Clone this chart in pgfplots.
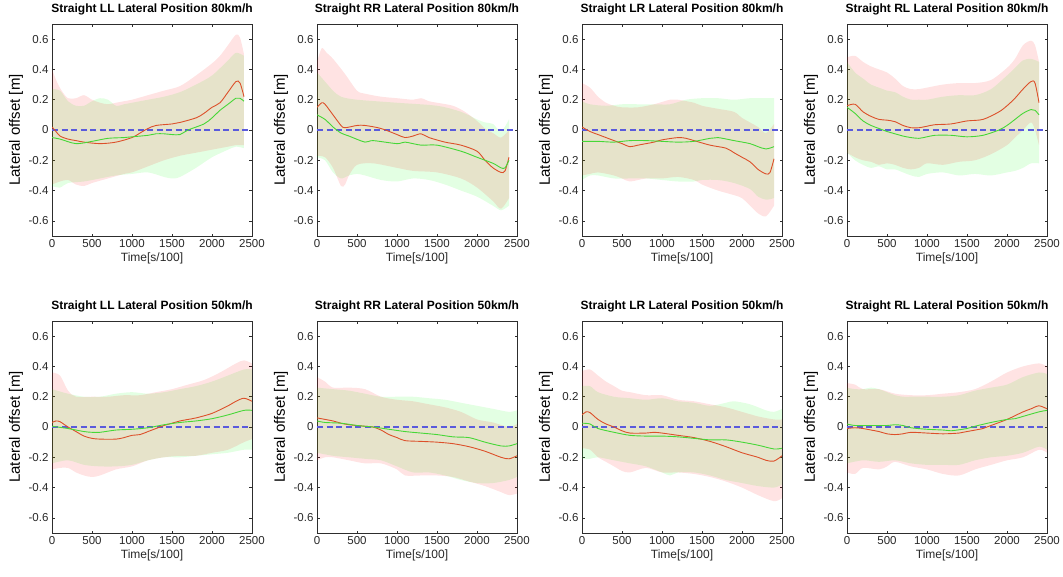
\documentclass[border=0pt]{standalone}
\usepackage{pgfplots}
\pgfplotsset{compat=1.18}
\usepgfplotslibrary{fillbetween}
\usepackage{fontspec}
\setmainfont{Liberation Sans}
\definecolor{redln}{RGB}{220,80,42}
\definecolor{greenln}{RGB}{70,215,55}
\definecolor{zeroblue}{RGB}{90,90,220}
\definecolor{axgray}{RGB}{45,45,45}
\definecolor{tickgray}{RGB}{40,40,40}
\pgfplotsset{
  panel/.style={
    scale only axis, width=200pt, height=212pt, anchor=south west,
    xmin=0, xmax=2500, ymin=-0.7, ymax=0.7,
    xtick={0,500,1000,1500,2000,2500},
    ytick={-0.6,-0.4,-0.2,0,0.2,0.4,0.6},
    tick align=inside, tick pos=both, major tick length=2.5pt,
    axis line style={color=axgray, line width=0.5pt},
    tick style={color=axgray, line width=0.5pt},
    ticklabel style={font=\fontsize{11.5}{13}\selectfont, text=tickgray},
    /pgf/number format/assume math mode=true,
    /pgf/number format/1000 sep={},
    title style={font=\bfseries\fontsize{12}{14}\selectfont, at={(axis description cs:0.5,1.025)}, anchor=base},
    xlabel={Time[s/100]},
    ylabel={Lateral offset [m]},
    xlabel style={font=\fontsize{12}{14}\selectfont, text=tickgray, at={(axis description cs:0.5,-0.104)}, anchor=center},
    ylabel style={font=\fontsize{15}{17}\selectfont, text=black, at={(axis description cs:-0.18,0.5)}, anchor=center},
  },
  bnd/.style={draw=none, smooth, tension=0.5, forget plot},
  rband/.style={fill=red, fill opacity=0.11, draw=none},
  gband/.style={fill=green, fill opacity=0.11, draw=none},
  zl/.style={color=zeroblue, line width=1.05pt, dash pattern=on 6pt off 3.5pt},
  rline/.style={color=redln, line width=0.9pt, smooth, tension=0.5},
  gline/.style={color=greenln, line width=0.9pt, smooth, tension=0.5},
}
\begin{document}
\begin{tikzpicture}
%% ---------- Panel 1: LL 80 ----------
\begin{axis}[panel, at={(52pt,-236pt)}, title={Straight LL Lateral Position 80km/h}]
\addplot[bnd, name path=ru] coordinates {(0,0.40) (60,0.32) (120,0.26) (200,0.21) (300,0.21) (400,0.23) (500,0.20) (600,0.18) (700,0.17) (800,0.18) (900,0.19) (1000,0.20) (1200,0.23) (1400,0.26) (1600,0.29) (1800,0.36) (2000,0.44) (2100,0.49) (2200,0.56) (2300,0.63) (2350,0.61) (2400,0.50)};
\addplot[bnd, name path=rlo] coordinates {(0,-0.36) (100,-0.34) (200,-0.33) (300,-0.36) (400,-0.37) (500,-0.35) (700,-0.32) (900,-0.29) (1000,-0.28) (1200,-0.24) (1400,-0.20) (1600,-0.17) (1800,-0.15) (2000,-0.13) (2200,-0.11) (2300,-0.10) (2400,-0.10)};
\addplot[bnd, name path=gu] coordinates {(0,0.27) (100,0.26) (200,0.19) (300,0.16) (400,0.16) (500,0.19) (600,0.21) (700,0.20) (800,0.16) (900,0.17) (1000,0.18) (1200,0.20) (1400,0.22) (1600,0.25) (1800,0.30) (2000,0.36) (2200,0.46) (2300,0.51) (2400,0.49)};
\addplot[bnd, name path=glo] coordinates {(0,-0.37) (100,-0.38) (200,-0.35) (400,-0.34) (600,-0.32) (800,-0.30) (1000,-0.29) (1200,-0.28) (1400,-0.31) (1500,-0.32) (1600,-0.31) (1800,-0.25) (2000,-0.18) (2200,-0.13) (2300,-0.11) (2400,-0.12)};
\addplot[gband] fill between[of=gu and glo];
\addplot[rband] fill between[of=ru and rlo];
\addplot[zl] coordinates {(0,0) (2500,0)};
\addplot[rline] coordinates {(0,0.02) (50,-0.01) (100,-0.04) (200,-0.06) (300,-0.07) (400,-0.08) (600,-0.09) (800,-0.08) (1000,-0.05) (1100,-0.02) (1200,0.01) (1300,0.03) (1500,0.04) (1600,0.05) (1800,0.08) (1900,0.11) (2000,0.15) (2100,0.18) (2200,0.25) (2300,0.32) (2350,0.31) (2400,0.22)};
\addplot[gline] coordinates {(0,-0.05) (100,-0.06) (300,-0.09) (500,-0.075) (700,-0.055) (900,-0.05) (1000,-0.045) (1200,-0.035) (1300,-0.025) (1400,-0.025) (1500,-0.03) (1600,-0.03) (1700,0.0) (1900,0.04) (2000,0.08) (2100,0.13) (2200,0.17) (2300,0.21) (2350,0.21) (2400,0.19)};
\end{axis}
%% ---------- Panel 2: RR 80 ----------
\begin{axis}[panel, at={(317pt,-236pt)}, title={Straight RR Lateral Position 80km/h}]
\addplot[bnd, name path=ru] coordinates {(0,0.45) (60,0.54) (120,0.51) (200,0.47) (350,0.37) (500,0.26) (600,0.24) (800,0.22) (1000,0.21) (1200,0.20) (1300,0.21) (1400,0.19) (1500,0.18) (1700,0.16) (1850,0.12) (2000,0.06) (2100,0.01) (2200,-0.02) (2300,-0.05) (2400,0.0)};
\addplot[bnd, name path=rlo] coordinates {(0,-0.17) (100,-0.18) (200,-0.25) (300,-0.37) (350,-0.36) (400,-0.30) (500,-0.23) (700,-0.22) (1000,-0.25) (1200,-0.27) (1500,-0.28) (1800,-0.32) (2000,-0.38) (2200,-0.47) (2300,-0.52) (2400,-0.45)};
\addplot[bnd, name path=gu] coordinates {(0,0.38) (100,0.32) (200,0.26) (300,0.22) (500,0.20) (1000,0.18) (1500,0.16) (1800,0.12) (2000,0.07) (2100,0.05) (2200,0.04) (2300,-0.01) (2400,0.07)};
\addplot[bnd, name path=glo] coordinates {(0,-0.18) (100,-0.20) (200,-0.28) (300,-0.32) (400,-0.30) (500,-0.29) (600,-0.30) (800,-0.33) (1000,-0.34) (1200,-0.32) (1400,-0.33) (1600,-0.36) (1800,-0.40) (2000,-0.44) (2200,-0.50) (2300,-0.53) (2400,-0.50)};
\addplot[gband] fill between[of=gu and glo];
\addplot[rband] fill between[of=ru and rlo];
\addplot[zl] coordinates {(0,0) (2500,0)};
\addplot[rline] coordinates {(0,0.15) (60,0.18) (100,0.17) (200,0.10) (300,0.03) (350,0.015) (500,0.03) (600,0.03) (800,0.01) (1000,-0.03) (1100,-0.05) (1200,-0.04) (1300,-0.025) (1400,-0.05) (1600,-0.08) (1800,-0.10) (2000,-0.14) (2100,-0.20) (2200,-0.25) (2300,-0.28) (2350,-0.27) (2400,-0.18)};
\addplot[gline] coordinates {(0,0.10) (100,0.07) (200,0.02) (300,-0.02) (400,-0.04) (600,-0.08) (700,-0.07) (1000,-0.09) (1100,-0.08) (1300,-0.10) (1500,-0.10) (1800,-0.14) (2000,-0.18) (2200,-0.22) (2300,-0.25) (2350,-0.25) (2400,-0.20)};
\end{axis}
%% ---------- Panel 3: LR 80 ----------
\begin{axis}[panel, at={(582pt,-236pt)}, title={Straight LR Lateral Position 80km/h}]
\addplot[bnd, name path=ru] coordinates {(0,0.31) (100,0.28) (200,0.22) (300,0.18) (400,0.16) (500,0.15) (700,0.15) (900,0.17) (1100,0.20) (1200,0.20) (1400,0.18) (1500,0.16) (1700,0.14) (1900,0.12) (2000,0.08) (2100,0.05) (2200,0.02) (2300,-0.02) (2400,0.04)};
\addplot[bnd, name path=rlo] coordinates {(0,-0.30) (100,-0.29) (200,-0.28) (400,-0.30) (500,-0.32) (600,-0.34) (800,-0.32) (1000,-0.32) (1200,-0.31) (1400,-0.33) (1500,-0.36) (1700,-0.40) (1900,-0.43) (2000,-0.45) (2100,-0.50) (2200,-0.55) (2300,-0.57) (2400,-0.50)};
\addplot[bnd, name path=gu] coordinates {(0,0.19) (100,0.17) (300,0.16) (500,0.17) (700,0.17) (900,0.17) (1100,0.17) (1300,0.20) (1500,0.21) (1700,0.21) (1900,0.20) (2100,0.21) (2300,0.21) (2400,0.21)};
\addplot[bnd, name path=glo] coordinates {(0,-0.33) (100,-0.30) (200,-0.30) (400,-0.32) (600,-0.32) (800,-0.32) (1000,-0.33) (1200,-0.34) (1400,-0.34) (1500,-0.33) (1700,-0.33) (1900,-0.35) (2100,-0.39) (2200,-0.44) (2300,-0.46) (2400,-0.45)};
\addplot[gband] fill between[of=gu and glo];
\addplot[rband] fill between[of=ru and rlo];
\addplot[zl] coordinates {(0,0) (2500,0)};
\addplot[rline] coordinates {(0,0.02) (100,-0.01) (200,-0.03) (300,-0.05) (400,-0.07) (500,-0.09) (600,-0.11) (700,-0.10) (800,-0.09) (900,-0.08) (1000,-0.065) (1200,-0.05) (1300,-0.055) (1400,-0.07) (1600,-0.10) (1800,-0.12) (1900,-0.15) (2000,-0.18) (2100,-0.21) (2200,-0.26) (2300,-0.29) (2350,-0.28) (2400,-0.19)};
\addplot[gline] coordinates {(0,-0.075) (200,-0.075) (400,-0.08) (600,-0.07) (800,-0.07) (1000,-0.075) (1200,-0.08) (1400,-0.075) (1600,-0.055) (1700,-0.05) (1900,-0.07) (2100,-0.09) (2200,-0.11) (2300,-0.125) (2400,-0.11)};
\end{axis}
%% ---------- Panel 4: RL 80 ----------
\begin{axis}[panel, at={(847pt,-236pt)}, title={Straight RL Lateral Position 80km/h}]
\addplot[bnd, name path=ru] coordinates {(0,0.48) (100,0.49) (200,0.45) (300,0.42) (400,0.40) (500,0.38) (600,0.34) (700,0.29) (800,0.27) (900,0.27) (1000,0.28) (1200,0.30) (1400,0.31) (1600,0.31) (1800,0.33) (2000,0.41) (2100,0.47) (2200,0.56) (2300,0.59) (2350,0.56) (2400,0.45)};
\addplot[bnd, name path=rlo] coordinates {(0,-0.15) (100,-0.18) (200,-0.20) (300,-0.21) (400,-0.23) (500,-0.22) (600,-0.23) (700,-0.25) (800,-0.26) (900,-0.25) (1000,-0.22) (1200,-0.23) (1400,-0.21) (1600,-0.20) (1800,-0.16) (2000,-0.10) (2100,-0.05) (2200,0.00) (2300,0.05) (2350,0.00) (2400,-0.10)};
\addplot[bnd, name path=gu] coordinates {(0,0.45) (100,0.38) (200,0.34) (300,0.30) (400,0.28) (500,0.26) (600,0.25) (700,0.22) (800,0.20) (900,0.20) (1000,0.20) (1200,0.22) (1400,0.23) (1600,0.23) (1800,0.27) (2000,0.36) (2100,0.41) (2200,0.46) (2300,0.47) (2400,0.45)};
\addplot[bnd, name path=glo] coordinates {(0,-0.15) (100,-0.20) (200,-0.23) (300,-0.25) (400,-0.24) (500,-0.26) (600,-0.26) (700,-0.28) (800,-0.30) (900,-0.31) (1000,-0.29) (1200,-0.28) (1400,-0.30) (1600,-0.29) (1800,-0.30) (2000,-0.28) (2100,-0.27) (2200,-0.25) (2300,-0.22) (2400,-0.22)};
\addplot[gband] fill between[of=gu and glo];
\addplot[rband] fill between[of=ru and rlo];
\addplot[zl] coordinates {(0,0) (2500,0)};
\addplot[rline] coordinates {(0,0.16) (100,0.17) (200,0.12) (300,0.09) (400,0.07) (500,0.065) (600,0.055) (700,0.03) (800,0.015) (900,0.015) (1000,0.025) (1100,0.035) (1300,0.04) (1500,0.06) (1700,0.07) (1900,0.12) (2000,0.16) (2100,0.21) (2200,0.27) (2300,0.32) (2350,0.31) (2400,0.18)};
\addplot[gline] coordinates {(0,0.15) (100,0.11) (200,0.06) (300,0.03) (400,0.01) (500,-0.01) (600,-0.025) (700,-0.04) (800,-0.05) (900,-0.055) (1000,-0.045) (1100,-0.035) (1300,-0.035) (1500,-0.045) (1700,-0.035) (1900,0.0) (2000,0.03) (2100,0.07) (2200,0.11) (2300,0.135) (2350,0.13) (2400,0.10)};
\end{axis}
%% ---------- Panel 5: LL 50 ----------
\begin{axis}[panel, at={(52pt,-533pt)}, title={Straight LL Lateral Position 50km/h}]
\addplot[bnd, name path=ru] coordinates {(0,0.36) (100,0.34) (200,0.24) (300,0.20) (500,0.20) (700,0.20) (900,0.21) (1100,0.21) (1300,0.23) (1500,0.25) (1700,0.28) (1900,0.31) (2100,0.36) (2300,0.42) (2400,0.44) (2500,0.42)};
\addplot[bnd, name path=rlo] coordinates {(0,-0.28) (100,-0.27) (200,-0.27) (300,-0.30) (400,-0.32) (500,-0.33) (600,-0.32) (800,-0.28) (1000,-0.26) (1200,-0.22) (1400,-0.20) (1600,-0.19) (1800,-0.19) (2000,-0.17) (2200,-0.15) (2400,-0.10) (2500,-0.08)};
\addplot[bnd, name path=gu] coordinates {(0,0.25) (200,0.22) (400,0.20) (600,0.20) (800,0.22) (1000,0.23) (1200,0.22) (1400,0.23) (1600,0.25) (1800,0.27) (2000,0.30) (2200,0.34) (2400,0.38) (2500,0.38)};
\addplot[bnd, name path=glo] coordinates {(0,-0.24) (200,-0.22) (400,-0.25) (600,-0.26) (800,-0.26) (1000,-0.25) (1200,-0.22) (1400,-0.20) (1600,-0.20) (1800,-0.19) (2000,-0.18) (2200,-0.17) (2400,-0.15) (2500,-0.15)};
\addplot[gband] fill between[of=gu and glo];
\addplot[rband] fill between[of=ru and rlo];
\addplot[zl] coordinates {(0,0) (2500,0)};
\addplot[rline] coordinates {(0,0.03) (50,0.04) (100,0.035) (200,0.0) (300,-0.03) (400,-0.06) (500,-0.075) (600,-0.08) (800,-0.08) (900,-0.07) (1000,-0.055) (1100,-0.05) (1200,-0.03) (1300,-0.01) (1400,0.01) (1500,0.025) (1600,0.04) (1700,0.05) (1800,0.06) (2000,0.09) (2200,0.14) (2300,0.17) (2400,0.19) (2500,0.17)};
\addplot[gline] coordinates {(0,0.005) (200,-0.01) (400,-0.03) (500,-0.035) (600,-0.035) (800,-0.02) (1000,-0.015) (1200,-0.005) (1400,0.015) (1600,0.03) (1800,0.04) (2000,0.055) (2200,0.08) (2400,0.11) (2500,0.11)};
\end{axis}
%% ---------- Panel 6: RR 50 ----------
\begin{axis}[panel, at={(317pt,-533pt)}, title={Straight RR Lateral Position 50km/h}]
\addplot[bnd, name path=ru] coordinates {(0,0.33) (100,0.30) (200,0.26) (400,0.26) (600,0.25) (800,0.20) (1000,0.18) (1200,0.17) (1400,0.15) (1600,0.13) (1800,0.10) (2000,0.05) (2200,0.03) (2400,0.00) (2500,0.02)};
\addplot[bnd, name path=rlo] coordinates {(0,-0.22) (100,-0.20) (200,-0.20) (400,-0.22) (600,-0.24) (800,-0.24) (1000,-0.28) (1100,-0.32) (1300,-0.32) (1500,-0.32) (1700,-0.33) (1900,-0.36) (2100,-0.39) (2300,-0.43) (2400,-0.45) (2500,-0.44)};
\addplot[bnd, name path=gu] coordinates {(0,0.26) (200,0.25) (400,0.24) (600,0.22) (800,0.20) (1000,0.20) (1200,0.20) (1400,0.19) (1600,0.18) (1800,0.16) (2000,0.14) (2200,0.12) (2400,0.10) (2500,0.11)};
\addplot[bnd, name path=glo] coordinates {(0,-0.17) (200,-0.19) (400,-0.20) (600,-0.21) (800,-0.22) (1000,-0.26) (1200,-0.30) (1400,-0.30) (1600,-0.32) (1800,-0.35) (2000,-0.37) (2200,-0.37) (2400,-0.35) (2500,-0.33)};
\addplot[gband] fill between[of=gu and glo];
\addplot[rband] fill between[of=ru and rlo];
\addplot[zl] coordinates {(0,0) (2500,0)};
\addplot[rline] coordinates {(0,0.06) (200,0.04) (300,0.025) (400,0.015) (600,0.005) (700,0.0) (800,-0.02) (900,-0.05) (1000,-0.07) (1100,-0.09) (1300,-0.095) (1500,-0.10) (1700,-0.11) (1900,-0.13) (2100,-0.16) (2300,-0.20) (2400,-0.21) (2500,-0.19)};
\addplot[gline] coordinates {(0,0.04) (100,0.03) (300,0.025) (500,0.01) (700,0.0) (900,-0.015) (1100,-0.03) (1300,-0.04) (1500,-0.05) (1700,-0.065) (1900,-0.07) (2100,-0.10) (2300,-0.125) (2400,-0.125) (2500,-0.11)};
\end{axis}
%% ---------- Panel 7: LR 50 ----------
\begin{axis}[panel, at={(582pt,-533pt)}, title={Straight LR Lateral Position 50km/h}]
\addplot[bnd, name path=ru] coordinates {(0,0.37) (100,0.38) (200,0.34) (300,0.30) (400,0.27) (500,0.24) (600,0.23) (800,0.21) (1000,0.21) (1200,0.18) (1400,0.17) (1600,0.15) (1800,0.13) (2000,0.10) (2200,0.07) (2400,0.05) (2500,0.05)};
\addplot[bnd, name path=rlo] coordinates {(0,-0.14) (100,-0.15) (200,-0.20) (300,-0.23) (400,-0.26) (500,-0.29) (600,-0.30) (800,-0.27) (1000,-0.30) (1200,-0.30) (1400,-0.31) (1600,-0.33) (1800,-0.36) (2000,-0.40) (2200,-0.45) (2400,-0.49) (2500,-0.47)};
\addplot[bnd, name path=gu] coordinates {(0,0.27) (100,0.27) (200,0.23) (400,0.20) (600,0.19) (800,0.18) (1000,0.19) (1200,0.17) (1400,0.16) (1600,0.14) (1800,0.16) (1900,0.17) (2100,0.15) (2300,0.11) (2400,0.10) (2500,0.12)};
\addplot[bnd, name path=glo] coordinates {(0,-0.21) (100,-0.21) (200,-0.20) (400,-0.22) (600,-0.24) (800,-0.26) (1000,-0.30) (1100,-0.32) (1200,-0.30) (1400,-0.30) (1600,-0.32) (1800,-0.35) (2000,-0.37) (2200,-0.39) (2400,-0.40) (2500,-0.38)};
\addplot[gband] fill between[of=gu and glo];
\addplot[rband] fill between[of=ru and rlo];
\addplot[zl] coordinates {(0,0) (2500,0)};
\addplot[rline] coordinates {(0,0.08) (50,0.10) (100,0.095) (200,0.05) (300,0.02) (400,0.0) (500,-0.025) (600,-0.04) (800,-0.04) (900,-0.035) (1000,-0.04) (1200,-0.055) (1400,-0.07) (1600,-0.095) (1800,-0.13) (2000,-0.17) (2200,-0.20) (2300,-0.22) (2400,-0.225) (2500,-0.19)};
\addplot[gline] coordinates {(0,0.025) (100,0.02) (200,-0.01) (400,-0.035) (600,-0.055) (800,-0.06) (1000,-0.06) (1200,-0.065) (1400,-0.075) (1600,-0.085) (1800,-0.085) (2000,-0.10) (2200,-0.12) (2400,-0.145) (2500,-0.14)};
\end{axis}
%% ---------- Panel 8: RL 50 ----------
\begin{axis}[panel, at={(847pt,-533pt)}, title={Straight RL Lateral Position 50km/h}]
\addplot[bnd, name path=ru] coordinates {(0,0.29) (100,0.28) (200,0.25) (400,0.25) (600,0.22) (800,0.21) (1000,0.21) (1200,0.22) (1400,0.23) (1600,0.25) (1800,0.30) (2000,0.36) (2200,0.40) (2400,0.42) (2500,0.40)};
\addplot[bnd, name path=rlo] coordinates {(0,-0.30) (100,-0.31) (200,-0.27) (400,-0.28) (500,-0.26) (600,-0.23) (800,-0.26) (1000,-0.28) (1200,-0.31) (1400,-0.32) (1600,-0.28) (1800,-0.25) (2000,-0.22) (2200,-0.20) (2400,-0.15) (2500,-0.17)};
\addplot[bnd, name path=gu] coordinates {(0,0.26) (100,0.25) (200,0.25) (300,0.26) (400,0.25) (500,0.23) (600,0.21) (700,0.20) (800,0.20) (1000,0.20) (1200,0.20) (1400,0.21) (1600,0.24) (1800,0.26) (2000,0.28) (2200,0.33) (2400,0.36) (2500,0.35)};
\addplot[bnd, name path=glo] coordinates {(0,-0.24) (200,-0.22) (400,-0.23) (600,-0.22) (800,-0.24) (1000,-0.25) (1200,-0.25) (1400,-0.25) (1600,-0.22) (1800,-0.20) (2000,-0.19) (2200,-0.17) (2400,-0.13) (2500,-0.15)};
\addplot[gband] fill between[of=gu and glo];
\addplot[rband] fill between[of=ru and rlo];
\addplot[zl] coordinates {(0,0) (2500,0)};
\addplot[rline] coordinates {(0,-0.01) (100,-0.005) (200,-0.01) (300,-0.02) (400,-0.03) (500,-0.045) (600,-0.05) (700,-0.045) (800,-0.035) (1000,-0.04) (1200,-0.045) (1400,-0.04) (1500,-0.03) (1700,-0.01) (1800,0.01) (2000,0.05) (2200,0.10) (2300,0.12) (2400,0.14) (2500,0.12)};
\addplot[gline] coordinates {(0,0.02) (100,0.01) (300,0.01) (500,0.01) (600,0.015) (700,0.01) (800,-0.005) (1000,-0.015) (1200,-0.02) (1300,-0.025) (1500,-0.01) (1600,0.005) (1800,0.03) (2000,0.05) (2100,0.055) (2200,0.07) (2400,0.10) (2500,0.11)};
\end{axis}
\pgfresetboundingbox
\path (0,0) rectangle (1063pt,-576pt);
\end{tikzpicture}
\end{document}
